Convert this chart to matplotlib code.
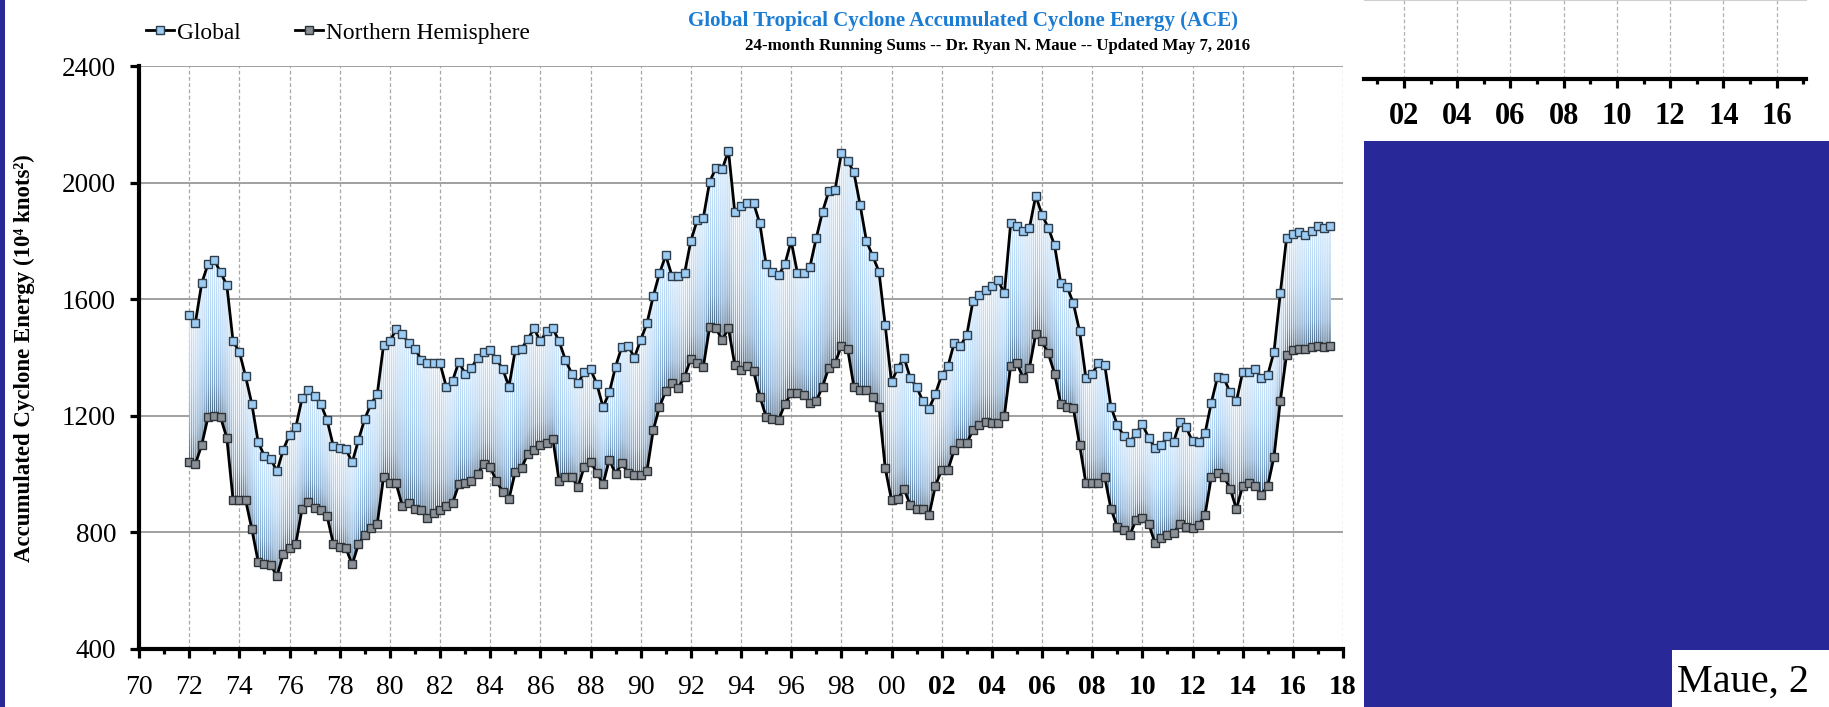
import numpy as np
import matplotlib
matplotlib.use('Agg')
import matplotlib.pyplot as plt
from matplotlib.colors import LinearSegmentedColormap
from matplotlib.patches import Rectangle
from matplotlib.lines import Line2D

# quarterly samples, 24-month running sums (10^4 kt^2)
quarters = np.arange(1972.0, 2017.51, 0.25)

global_ace = [
    1545, 1520, 1655, 1720,  1735, 1692, 1649, 1455,  1420, 1335, 1240, 1110,
    1062, 1052, 1010, 1083,  1135, 1160, 1260, 1290,  1268, 1240, 1185, 1095,
    1088, 1085, 1040, 1117,  1190, 1240, 1275, 1443,  1455, 1497, 1480, 1450,
    1430, 1393, 1380, 1380,  1380, 1300, 1320, 1385,  1345, 1363, 1400, 1418,
    1426, 1395, 1360, 1300,  1426, 1430, 1463, 1500,  1455, 1490, 1500, 1455,
    1392, 1345, 1311, 1350,  1360, 1310, 1230, 1280,  1369, 1437, 1440, 1400,
    1460, 1517, 1610, 1689,  1750, 1680, 1680, 1689,  1800, 1870, 1880, 2003,
    2050, 2045, 2110, 1900,  1920, 1929, 1930, 1860,  1720, 1692, 1683, 1720,
    1800, 1689, 1690, 1712,  1810, 1900, 1970, 1975,  2101, 2075, 2035, 1923,
    1800, 1748, 1695, 1510,  1315, 1365, 1400, 1329,  1300, 1250, 1225, 1275,
    1340, 1370, 1450, 1440,  1477, 1595, 1615, 1630,  1645, 1665, 1620, 1860,
    1850, 1835, 1845, 1955,  1890, 1845, 1785, 1655,  1643, 1586, 1490, 1330,
    1345, 1380, 1375, 1230,  1170, 1132, 1110, 1140,  1172, 1125, 1090, 1100,
    1130, 1111, 1180, 1160,  1112, 1110, 1140, 1245,  1334, 1329, 1280, 1250,
    1350, 1350, 1360, 1330,  1340, 1420, 1620, 1810,  1825, 1830, 1820, 1835,
    1850, 1845, 1850,
]

nh_ace = [
    1040, 1035, 1100, 1195,  1200, 1195, 1125, 911,  911, 911, 810, 700,
    690, 688, 650, 725,  745, 760, 880, 905,  885, 877, 855, 760,
    750, 745, 690, 760,  790, 815, 830, 990,  968, 968, 890, 900,
    880, 877, 850, 866,  877, 890, 900, 965,  968, 975, 1000, 1035,
    1025, 975, 940, 915,  1008, 1020, 1070, 1083,  1100, 1106, 1120, 975,
    991, 991, 955, 1025,  1043, 1005, 965, 1050,  1000, 1037, 1003, 997,
    997, 1010, 1150, 1230,  1285, 1311, 1295, 1334,  1395, 1380, 1369, 1505,
    1500, 1460, 1500, 1375,  1357, 1370, 1352, 1266,  1197, 1190, 1186, 1240,
    1277, 1277, 1271, 1245,  1250, 1300, 1365, 1380,  1440, 1430, 1300, 1289,
    1289, 1266, 1231, 1020,  911, 915, 948, 894,  880, 880, 860, 960,
    1014, 1014, 1083, 1105,  1106, 1151, 1170, 1180,  1174, 1175, 1200, 1370,
    1380, 1330, 1365, 1480,  1455, 1414, 1345, 1240,  1231, 1226, 1100, 968,
    968, 968, 990, 880,  820, 808, 790, 843,  848, 830, 765, 780,
    791, 797, 830, 820,  814, 825, 860, 990,  1003, 991, 950, 880,
    960, 968, 960, 930,  960, 1060, 1250, 1410,  1425, 1430, 1430, 1435,
    1440, 1435, 1440,
]

x_ticks = list(range(1970, 2019, 2))
x_labels = ['70', '72', '74', '76', '78', '80', '82', '84', '86', '88', '90', '92', '94',
            '96', '98', '00', '02', '04', '06', '08', '10', '12', '14', '16', '18']
y_ticks = [400, 800, 1200, 1600, 2000, 2400]

side_ticks = [2002, 2004, 2006, 2008, 2010, 2012, 2014, 2016]
side_labels = ['02', '04', '06', '08', '10', '12', '14', '16']

title = 'Global Tropical Cyclone Accumulated Cyclone Energy (ACE)'
subtitle = '24-month Running Sums -- Dr. Ryan N. Maue -- Updated May 7, 2016'
ylabel = 'Accumulated Cyclone Energy (10\u2074 knots\u00b2)'

serif = ['Liberation Serif', 'DejaVu Serif']
plt.rcParams['font.family'] = serif
plt.rcParams['hatch.linewidth'] = 0.6

W, H = 1829, 707
fig = plt.figure(figsize=(W / 100, H / 100), dpi=100)
fig.patch.set_facecolor('white')

ax = fig.add_axes([139 / W, 1 - 649 / H, 1204 / W, 583 / H])
ax.set_xlim(1970, 2018)
ax.set_ylim(400, 2400)

glob = np.array(global_ace, dtype=float)
nh = np.array(nh_ace, dtype=float)

# gradient fill between the two curves (light at the global curve, dark at NH)
cmap = LinearSegmentedColormap.from_list('band', [
    (0.0, '#cfe6fb'), (0.45, '#a9cff2'), (0.78, '#80a8d0'), (1.0, '#44627f')])
xg = np.linspace(quarters[0], quarters[-1], 1600)
yg = np.linspace(550, 2200, 900)
G = np.interp(xg, quarters, glob)
N = np.interp(xg, quarters, nh)
t = (G[None, :] - yg[:, None]) / (G - N)[None, :]
rgba = cmap(np.clip(t, 0, 1))
rgba[..., 3] = np.where((t >= 0) & (t <= 1), 1.0, 0.0)
ax.imshow(rgba, extent=[xg[0], xg[-1], yg[0], yg[-1]], origin='lower',
          aspect='auto', interpolation='bilinear', zorder=2)
ax.fill_between(quarters, nh, glob, facecolor='none', edgecolor='white',
                hatch='|' * 8, linewidth=0, zorder=3)

ms = 5.4
ax.plot(quarters, nh, color='black', lw=2.0, zorder=4)
ax.plot(quarters, nh, ls='none', marker='s', ms=ms, mfc='#8b9096',
        mec='#2e3338', mew=1.0, zorder=5)
ax.plot(quarters, glob, color='black', lw=2.0, zorder=4)
ax.plot(quarters, glob, ls='none', marker='s', ms=ms, mfc='#9ccbf3',
        mec='#2f3e4d', mew=1.0, zorder=5)

ax.set_xticks(x_ticks)
ax.set_xticklabels(x_labels)
ax.set_xticks(range(1971, 2018, 2), minor=True)
ax.set_yticks(y_ticks)
ax.tick_params(axis='both', which='both', direction='out', width=2.3, color='black')
ax.tick_params(axis='x', which='major', length=6.5, labelsize=20, pad=12)
ax.tick_params(axis='x', which='minor', length=3.5)
ax.tick_params(axis='y', which='major', length=6.5, labelsize=19.5, pad=10)
for lab in ax.get_xticklabels():
    if lab.get_text() in x_labels[16:]:
        lab.set_fontweight('bold')

ax.yaxis.grid(True, color='#a0a0a0', lw=1.4, zorder=0)
ax.xaxis.grid(True, color='#a8a8a8', ls=(0, (3, 2)), lw=0.9, zorder=0)
ax.set_axisbelow(True)
for s in ['top', 'right']:
    ax.spines[s].set_visible(False)
for s in ['left', 'bottom']:
    ax.spines[s].set_linewidth(3)
    ax.spines[s].set_zorder(6)

fig.text(24 / W, 1 - 358 / H, ylabel, rotation=90, ha='center', va='center',
         fontsize=16.5, fontweight='bold')
fig.text(963 / W, 1 - 21 / H, title, ha='center', va='center',
         color='#1b7cd4', fontsize=15, fontweight='bold')
fig.text(998 / W, 1 - 46 / H, subtitle, ha='center', va='center',
         fontsize=12.2, fontweight='bold')

handles = [
    Line2D([], [], color='black', lw=2.0, marker='s', ms=ms, mfc='#9ccbf3', mec='#2f3e4d'),
    Line2D([], [], color='black', lw=2.0, marker='s', ms=ms, mfc='#8b9096', mec='#2e3338'),
]
fig.legend(handles, ['Global', 'Northern Hemisphere'], loc='center left',
           bbox_to_anchor=(146 / W, 1 - 33 / H), ncol=2, frameon=False,
           handlelength=1.2, handletextpad=0.15, columnspacing=2.3,
           borderpad=0, borderaxespad=0, prop={'size': 16.8})

# pieces of the neighbouring slide
ax2 = fig.add_axes([1364 / W, 1 - 79 / H, 442 / W, 79 / H])
ax2.set_xlim(2000.5, 2017.1)
ax2.set_ylim(0, 1)
ax2.set_yticks([])
ax2.set_xticks(side_ticks)
ax2.set_xticklabels(side_labels)
ax2.set_xticks(range(2001, 2018, 2), minor=True)
ax2.tick_params(axis='x', which='both', direction='out', width=2.3)
ax2.tick_params(axis='x', which='major', length=6.5, labelsize=22, pad=10)
ax2.tick_params(axis='x', which='minor', length=3.5)
for lab in ax2.get_xticklabels():
    lab.set_fontweight('bold')
ax2.xaxis.grid(True, color='#b0b0b0', ls=(0, (3, 2)), lw=0.9)
for s in ['left', 'right']:
    ax2.spines[s].set_visible(False)
ax2.spines['top'].set_color('#d0d0d0')
ax2.spines['bottom'].set_linewidth(3)

navy = '#282898'
fig.add_artist(Rectangle((0, 0), 5 / W, 1, transform=fig.transFigure,
                         facecolor=navy, edgecolor='none', zorder=10))
fig.add_artist(Rectangle((1364 / W, 0), 1, 1 - 141 / H, transform=fig.transFigure,
                         facecolor=navy, edgecolor='none', zorder=10))
fig.add_artist(Rectangle((1672 / W, 0), 1, 57 / H, transform=fig.transFigure,
                         facecolor='white', edgecolor='none', zorder=11))
fig.text(1677 / W, 15 / H, 'Maue, 2', ha='left', va='baseline', fontsize=29,
         zorder=12)

fig.savefig('out.png', dpi=100)
